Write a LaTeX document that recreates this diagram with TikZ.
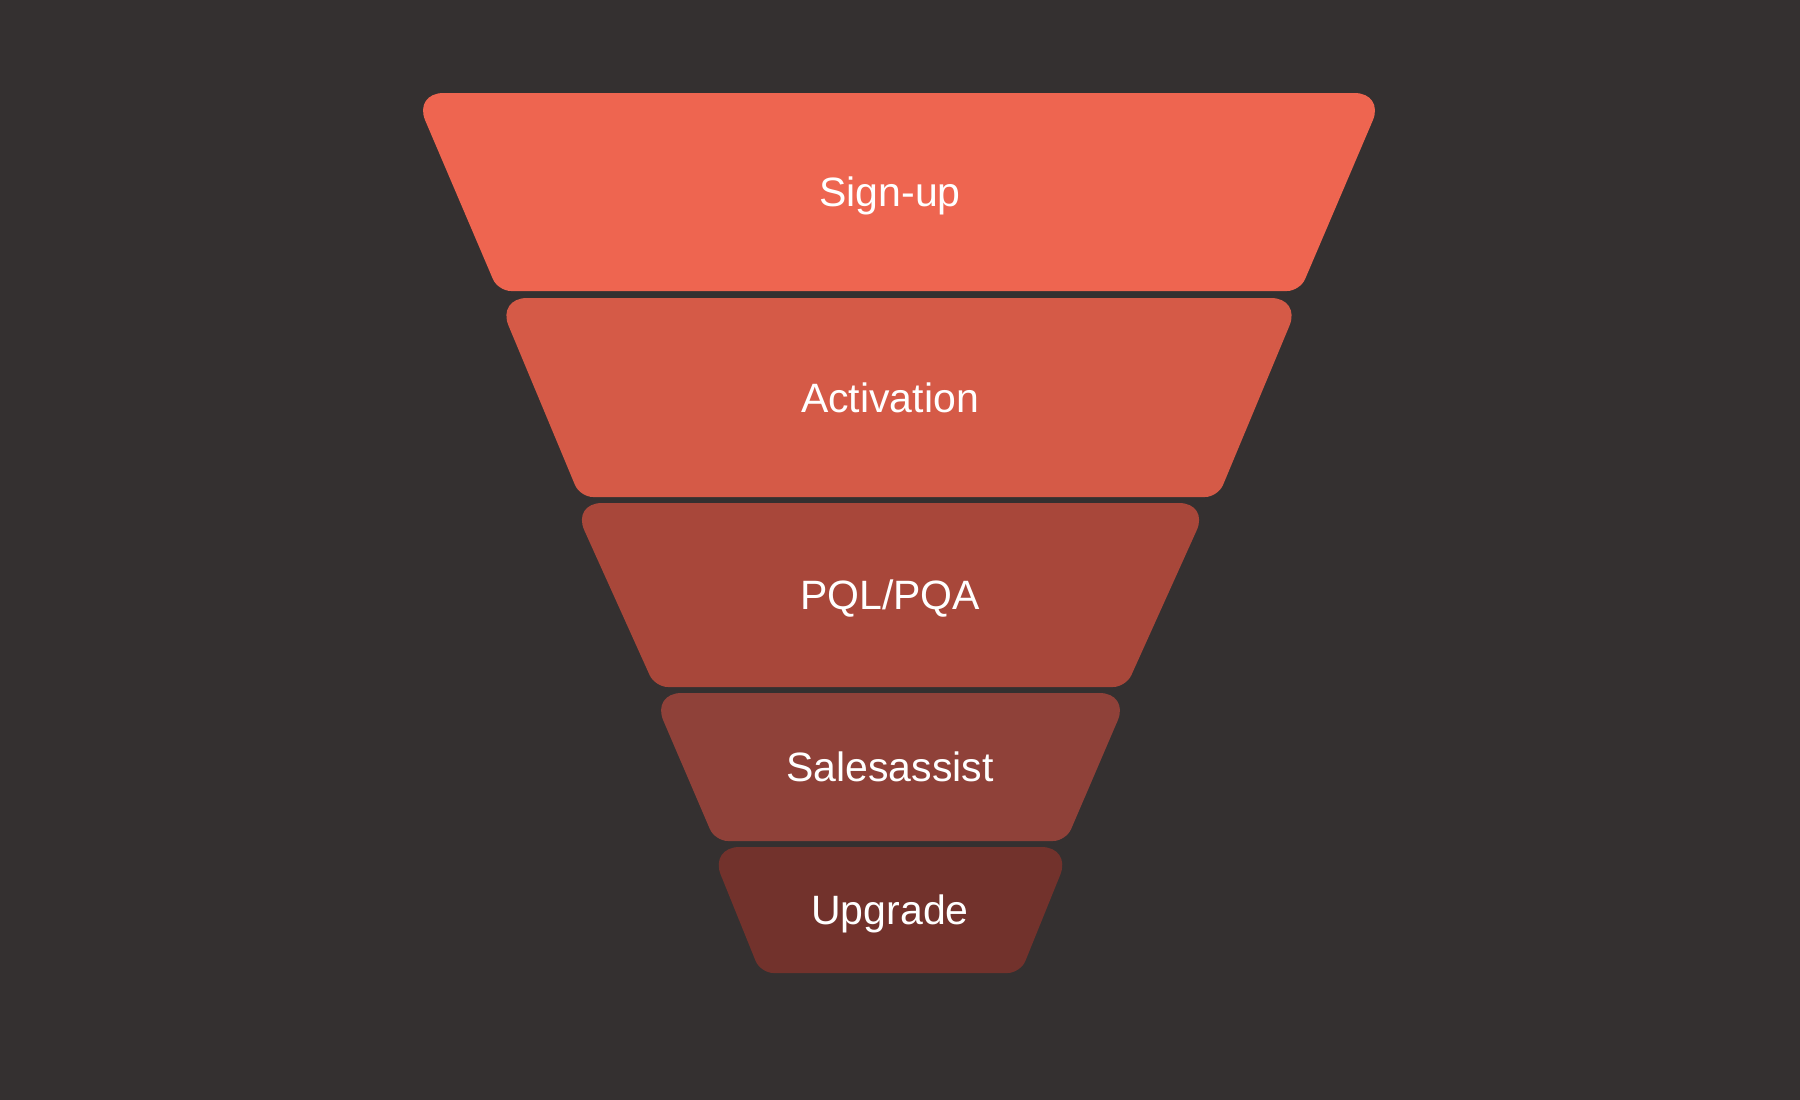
\documentclass[tikz,border=0pt]{standalone}
\usepackage{fontspec}
\setmainfont{Liberation Sans}
\definecolor {bgdark}{HTML}{343030}
\definecolor {stagea}{HTML}{EE6550}
\definecolor {stageb}{HTML}{D55A47}
\definecolor {stagec}{HTML}{A8473A}
\definecolor {staged}{HTML}{8F4139}
\definecolor {stagee}{HTML}{72322C}

\begin{document}
\begin{tikzpicture}[x=1pt ,y=-1pt ,
label/.style ={text=white , anchor=base , font=\fontsize{41}{48}\selectfont}]
\fill[bgdark] (0,0) rectangle (1800,1100);
% name / centre / top / bottom / top half width / bottom half width / colour / text
\foreach \name/\cx/\top/\bot/\tw/\bw/\col/\txt in {
signup/899/93/291/485.5/401/stagea/Sign-up,
activation/899/298/497/402/319/stageb/Activation,
pql/890.5/503/687/318.5/235.5/stagec/{PQL/PQA},
sales/890.5/693/841/239/175.5/staged/Salesassist,
upgrade/890.5/847/973/181/130/stagee/Upgrade}
{
\fill[\col] (\cx,\top) [rounded corners=30pt] -- (\cx+\tw,\top) [rounded corners=13pt]
 -- (\cx+\bw,\bot) -- (\cx-\bw,\bot) [rounded corners=30pt] -- (\cx-\tw,\top) -- cycle;
\node[label] (\name) at (890,{(\top+\bot)/2+14.5}) {\txt};
}
\end{tikzpicture}
\end{document}
